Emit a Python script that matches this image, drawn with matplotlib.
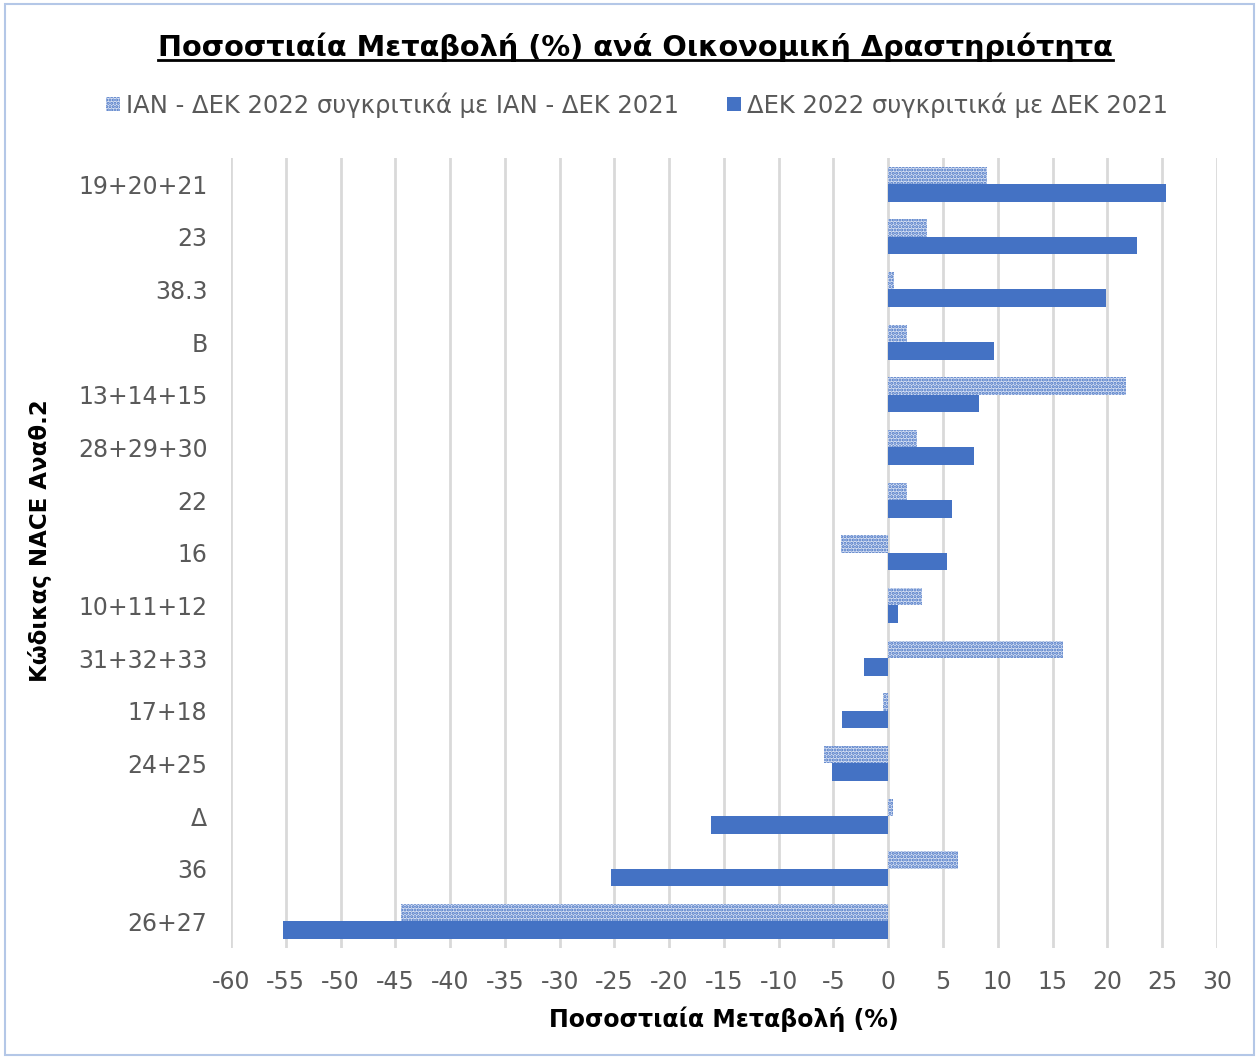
import numpy as np
import matplotlib
matplotlib.use("Agg")
import matplotlib.pyplot as plt
from matplotlib.patches import Patch, Rectangle
from matplotlib.lines import Line2D

# Data
categories = ["19+20+21", "23", "38.3", "B", "13+14+15", "28+29+30", "22", "16",
              "10+11+12", "31+32+33", "17+18", "24+25", "Δ", "36", "26+27"]
ytd_change = [9.0, 3.5, 0.5, 1.7, 21.7, 2.6, 1.7, -4.3,
              3.1, 16.0, -0.5, -5.9, 0.4, 6.4, -44.5]
dec_change = [25.4, 22.7, 19.9, 9.7, 8.3, 7.8, 5.8, 5.4,
              0.9, -2.2, -4.2, -5.1, -16.2, -25.3, -55.3]
series_names = ["ΙΑΝ - ΔΕΚ 2022 συγκριτικά με ΙΑΝ - ΔΕΚ 2021",
                "ΔΕΚ 2022 συγκριτικά με ΔΕΚ 2021"]
xticks = list(range(-60, 31, 5))

blue = "#4472C4"
light = "#D8E1F3"
grey_txt = "#595959"

plt.rcParams["font.family"] = ["DejaVu Sans"]
plt.rcParams["hatch.color"] = blue
plt.rcParams["hatch.linewidth"] = 1.5

fig = plt.figure(figsize=(12.59, 10.59), dpi=100)
ax = fig.add_axes([0.1835, 0.105, 0.783, 0.746])

y = np.arange(len(categories))
h = 0.33
ax.barh(y - h / 2, ytd_change, height=h, color=light, edgecolor=blue,
        hatch=".....", linewidth=0, zorder=3)
ax.barh(y + h / 2, dec_change, height=h, color=blue, linewidth=0, zorder=3)

ax.set_xlim(-60, 30)
ax.set_ylim(len(categories) - 0.5, -0.5)
ax.set_xticks(xticks)
ax.set_xticklabels([str(t) for t in xticks])
ax.set_yticks(y)
ax.set_yticklabels(categories)
ax.tick_params(axis="both", length=0, labelsize=17, colors=grey_txt)
ax.tick_params(axis="x", pad=16)
ax.tick_params(axis="y", pad=17)
ax.grid(axis="x", color="#D9D9D9", linewidth=2, zorder=0)
ax.set_axisbelow(True)
for s in ax.spines.values():
    s.set_visible(False)

ax.set_xlabel("Ποσοστιαία Μεταβολή (%)", fontsize=17, fontweight="bold",
              color="black", labelpad=9)
ax.set_ylabel("Κώδικας NACE Αναθ.2", fontsize=16.5, fontweight="bold",
              color="black")
ax.yaxis.set_label_coords(-0.182, 0.515)

# Legend
handles = [Patch(facecolor=light, edgecolor=blue, hatch=".....", linewidth=0),
           Patch(facecolor=blue, linewidth=0)]
fig.legend(handles, series_names, loc="center", bbox_to_anchor=(0.506, 0.901),
           ncol=2, frameon=False, fontsize=17.5, handlelength=0.55,
           handleheight=0.55, handletextpad=0.25, columnspacing=2.0,
           labelcolor=grey_txt)

# Title with underline
title = fig.text(0.5045, 0.955, "Ποσοστιαία Μεταβολή (%) ανά Οικονομική Δραστηριότητα",
                 ha="center", va="center", fontsize=20.7, fontweight="bold")
fig.canvas.draw()
bb = title.get_window_extent().transformed(fig.transFigure.inverted())
fig.add_artist(Line2D([bb.x0, bb.x1], [bb.y0 + 0.002, bb.y0 + 0.002],
                      color="black", linewidth=2))

# Chart border
fig.add_artist(Rectangle((0.004, 0.004), 0.992, 0.992, transform=fig.transFigure,
                         fill=False, edgecolor="#B4C7E7", linewidth=1.5))

fig.savefig("out.png", dpi=100, facecolor="white")
